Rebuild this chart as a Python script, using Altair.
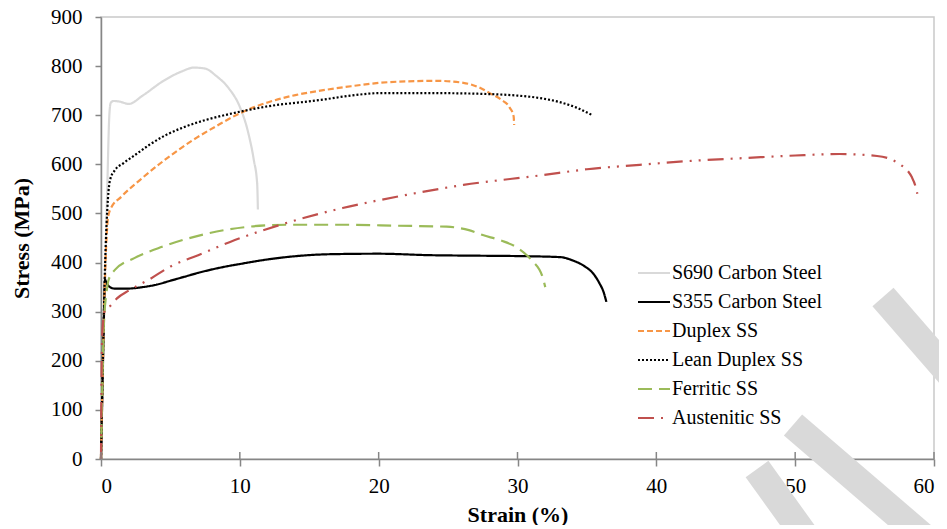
import altair as alt
import pandas as pd

# ---- data ----
series_names = ["S690 Carbon Steel", "S355 Carbon Steel", "Duplex SS",
                "Lean Duplex SS", "Ferritic SS", "Austenitic SS"]
series_colors = ["#d9d9d9", "#000000", "#f79646", "#000000", "#9bbb59", "#c0504d"]

s690_strain = [0, 0.45, 0.6, 0.7, 0.9, 1.3, 2.0, 3.0, 4.5, 5.8, 6.7, 7.5, 8.3, 9.2, 10.0, 10.6, 11.0, 11.25, 11.3]
s690_stress = [0, 550, 700, 725, 729, 728, 723, 740, 770, 789, 797, 795, 780, 755, 717, 665, 610, 560, 508]

s355_strain = [0, 0.18, 0.25, 0.29, 0.4, 0.65, 1.0, 1.9, 3.0, 4.0, 5.0, 6.0, 7.0, 8.0, 9.0, 10.0, 11.0, 13.0, 16.5, 20.0, 23.7, 27.0, 30.4, 33.1, 34.0, 34.8, 35.5, 35.9, 36.2, 36.4]
s355_stress = [0, 250, 340, 365, 358, 350, 347, 347, 350, 355, 363, 371, 379, 386, 392, 397, 402, 410, 417, 418, 415, 414, 413, 411, 404, 393, 376, 358, 340, 320]

duplex_strain = [0, 0.35, 0.5, 0.65, 1.5, 2.8, 4.5, 6.6, 8.5, 10.0, 12.0, 14.0, 15.8, 18.0, 20.1, 22.0, 24.2, 26.1, 27.2, 28.0, 28.8, 29.45, 29.72, 29.76]
duplex_stress = [0, 420, 490, 507, 535, 568, 607, 649, 681, 704, 726, 741, 750, 759, 766, 769, 770, 766, 757, 745, 732, 715, 698, 680]

lean_strain = [0, 0.3, 0.5, 0.65, 1.0, 1.6, 2.5, 3.5, 4.7, 6.0, 7.5, 9.5, 12.0, 15.8, 18.0, 20.1, 24.0, 28.0, 30.0, 31.6, 33.0, 34.2, 35.4]
lean_stress = [0, 400, 530, 568, 588, 602, 620, 640, 660, 676, 690, 704, 718, 731, 740, 745, 745, 743, 740, 735, 727, 716, 700]

ferritic_strain = [0, 0.2, 0.4, 0.55, 1.0, 2.4, 4.4, 7.5, 9.3, 13.4, 17.5, 21.3, 24.9, 26.5, 27.5, 28.8, 30.0, 31.0, 31.8, 32.0]
ferritic_stress = [0, 270, 340, 365, 385, 409, 432, 458, 468, 477, 477, 475, 473, 466, 456, 445, 430, 405, 371, 350]

austenitic_strain = [0, 0.05, 0.1, 0.29, 0.72, 1.15, 2.0, 3.5, 5.0, 7.0, 9.3, 13.4, 17.4, 21.3, 26.1, 31.8, 35.0, 38.8, 42.5, 46.5, 50.0, 53.2, 55.9, 57.0, 57.6, 58.1, 58.4, 58.65, 58.8]
austenitic_stress = [0, 200, 260, 303, 313, 327, 343, 366, 392, 415, 442, 481, 511, 534, 558, 578, 590, 599, 607, 613, 618, 621, 617, 609, 599, 587, 574, 557, 540]

x_ticks = [0, 10, 20, 30, 40, 50, 60]
y_ticks = [0, 100, 200, 300, 400, 500, 600, 700, 800, 900]

# ---- build table ----
all_strain = [s690_strain, s355_strain, duplex_strain, lean_strain, ferritic_strain, austenitic_strain]
all_stress = [s690_stress, s355_stress, duplex_stress, lean_stress, ferritic_stress, austenitic_stress]
rows = []
for name, xs, ys in zip(series_names, all_strain, all_stress):
    for i, (x, y) in enumerate(zip(xs, ys)):
        rows.append({"series": name, "strain": x, "stress": y, "order": i})
df = pd.DataFrame(rows)

FONT = "Liberation Serif"
W, H = 833, 442

xscale = alt.Scale(domain=[0, 60], nice=False, zero=False)
yscale = alt.Scale(domain=[0, 900], nice=False)

legend = alt.Legend(
    title=None, orient="none", legendX=543, legendY=246,
    symbolType="M-2,0H2", symbolSize=256, symbolStrokeWidth=2.2,
    labelFont=FONT, labelFontSize=20, labelColor="#000000",
    labelOffset=8, rowPadding=9, padding=0,
)

lines = alt.Chart(df).mark_line(interpolate="monotone", strokeWidth=2.2, strokeCap="butt").encode(
    x=alt.X("strain:Q", scale=xscale,
            axis=alt.Axis(values=x_ticks, title="Strain (%)", titleX=416.5, titleY=62,
                          titleBaseline="alphabetic", labelBaseline="alphabetic",
                          labelPadding=26, tickSize=7)),
    y=alt.Y("stress:Q", scale=yscale,
            axis=alt.Axis(values=y_ticks, title="Stress (MPa)", titleX=-73, titleY=221,
                          titleBaseline="alphabetic", labelPadding=13, tickSize=6)),
    color=alt.Color("series:N", scale=alt.Scale(domain=series_names, range=series_colors), legend=legend),
    strokeDash=alt.StrokeDash("series:N", scale=alt.Scale(
        domain=series_names,
        range=[[1, 0], [1, 0], [6, 3], [2, 2], [14, 7], [16, 7, 2, 7, 2, 7]]), legend=legend),
    order="order:Q",
)

tick_df = pd.DataFrame({"t": x_ticks})
inner_ticks = alt.Chart(tick_df).mark_rule(color="#868686", strokeWidth=1.5).encode(
    x=alt.X("t:Q", scale=xscale),
    y=alt.value(H - 7),
    y2=alt.value(H),
)

# grey diagonal watermark bands visible in the reference
wm = alt.Chart(pd.DataFrame({"k": [0]}))
bands = alt.layer(
    wm.mark_rule(color="#d9d9d9", strokeWidth=28, strokeCap="butt").encode(
        x=alt.value(782), y=alt.value(280), x2=alt.value(862), y2=alt.value(372)),
    wm.mark_rule(color="#d9d9d9", strokeWidth=28, strokeCap="butt").encode(
        x=alt.value(692), y=alt.value(408), x2=alt.value(834), y2=alt.value(530)),
    wm.mark_rule(color="#d9d9d9", strokeWidth=28, strokeCap="butt").encode(
        x=alt.value(656), y=alt.value(452), x2=alt.value(712), y2=alt.value(530)),
)

chart = alt.layer(bands, lines, inner_ticks).properties(
    width=W, height=H,
    background="#ffffff",
    autosize=alt.AutoSizeParams(type="none"),
    padding={"left": 93, "top": 9, "right": 5, "bottom": 66},
).configure_view(
    stroke="#c9c9c9", strokeWidth=1.5,
).configure_axis(
    domainColor="#868686", domainWidth=1.5, tickColor="#868686", tickWidth=1.5,
    grid=False, labelFont=FONT, labelFontSize=21, labelColor="#000000",
    titleFont=FONT, titleFontSize=22, titleFontWeight="bold", titleColor="#000000",
)

chart.save("out.html", embed_options={"renderer": "svg", "actions": False})
